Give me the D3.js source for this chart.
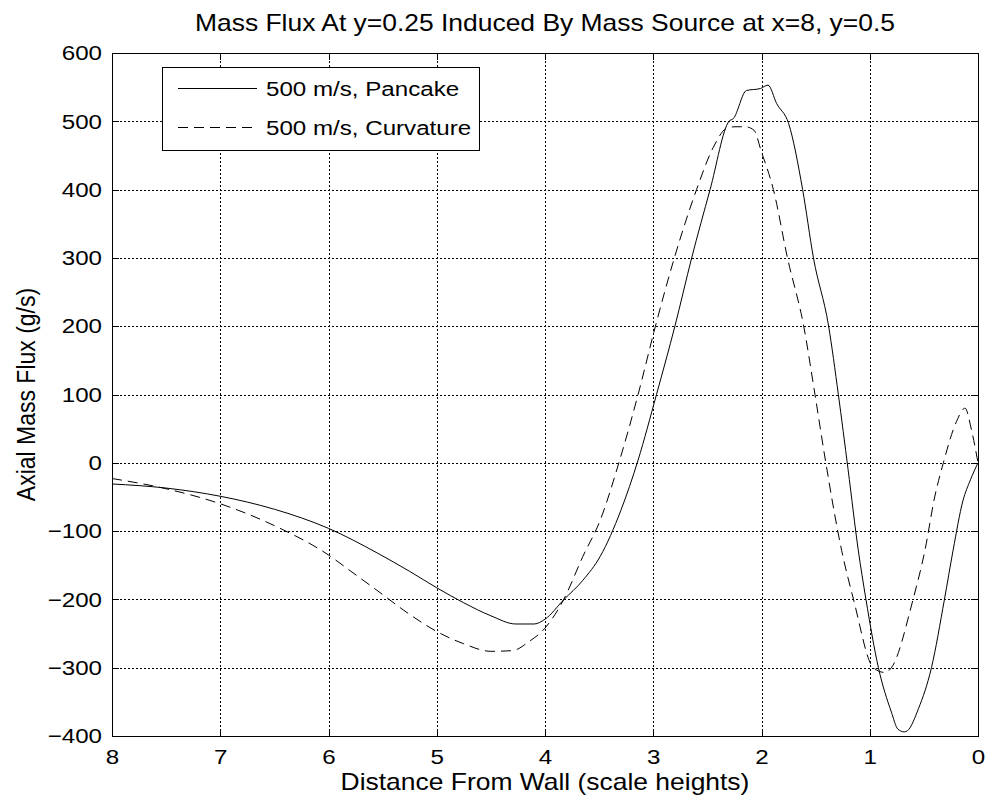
<!DOCTYPE html>
<html>
<head>
<meta charset="utf-8">
<script src="https://cdn.jsdelivr.net/npm/d3@7"></script>
<style>
  html, body { margin: 0; padding: 0; background: #fff; }
  svg text { font-family: "Liberation Sans", Arial, Helvetica, sans-serif; fill: #000; }
</style>
</head>
<body>
<svg id="chart" width="989" height="806"></svg>
<script>
// ---- data ----
const titleText = "Mass Flux At y=0.25 Induced By Mass Source at x=8, y=0.5";
const xLabelText = "Distance From Wall (scale heights)";
const yLabelText = "Axial Mass Flux (g/s)";
const seriesNames = ["500 m/s, Pancake", "500 m/s, Curvature"];
const xTicks = [8, 7, 6, 5, 4, 3, 2, 1, 0];
const yTicks = [-400, -300, -200, -100, 0, 100, 200, 300, 400, 500, 600];

const pancakeX = [8.0, 7.5, 7.0, 6.5, 6.0, 5.55, 5.25, 5.0, 4.75, 4.5, 4.27, 4.1, 4.0, 3.83, 3.65, 3.49, 3.3, 3.14, 2.97, 2.80, 2.645, 2.475, 2.30, 2.26, 2.14, 2.01, 1.94, 1.86, 1.75, 1.62, 1.52, 1.38, 1.29, 1.2, 1.106, 1.035, 0.92, 0.80, 0.74, 0.68, 0.65, 0.55, 0.43, 0.31, 0.23, 0.14, 0.07, 0.0];
const pancakeY = [-31, -37, -49, -68, -96, -132, -159, -183, -205, -224, -236, -236, -229, -201, -172, -137, -70, 4, 100, 200, 300, 400, 500, 504, 545, 548, 553, 526, 497, 400, 300, 200, 100, -10, -128, -200, -300, -365, -390, -394, -392, -360, -300, -200, -128, -56, -25, 0];

const curvX = [8.0, 7.5, 7.0, 6.5, 6.0, 5.8, 5.55, 5.25, 5.0, 4.75, 4.5, 4.3, 4.15, 4.0, 3.83, 3.65, 3.49, 3.31, 3.14, 2.98, 2.805, 2.60, 2.445, 2.32, 2.245, 2.15, 2.07, 2.0, 1.89, 1.76, 1.61, 1.506, 1.41, 1.26, 1.15, 0.967, 0.86, 0.80, 0.60, 0.49, 0.40, 0.32, 0.2, 0.12, 0.06, 0.0];
const curvY = [-23, -38, -60, -92, -135, -158, -187, -222, -247, -265, -276, -275, -262, -242, -201, -137, -84, 4, 100, 200, 300, 400, 462, 490, 492, 492, 487, 455, 400, 300, 200, 100, 4, -128, -200, -300, -307, -300, -200, -128, -50, 0, 60, 80, 48, 0];

// ---- layout ----
const SX = 1.15; // horizontal glyph stretch seen in the reference
const svg = d3.select("#chart");
const L = 112, R = 978, T = 53, B = 736;

const x = d3.scaleLinear().domain([8, 0]).range([L, R]);
const y = d3.scaleLinear().domain([-400, 600]).range([B, T]);

svg.append("rect").attr("width", 989).attr("height", 806).attr("fill", "#fff");

// grid
const grid = svg.append("g").attr("stroke", "#000").attr("stroke-width", 1)
  .attr("stroke-dasharray", "2,2").attr("shape-rendering", "crispEdges");
grid.selectAll("line.vx").data(xTicks.filter(d => d !== 8 && d !== 0)).enter().append("line")
  .attr("x1", d => Math.round(x(d)) + 0.5).attr("x2", d => Math.round(x(d)) + 0.5)
  .attr("y1", T).attr("y2", B);
grid.selectAll("line.hy").data(yTicks.filter(d => d !== -400 && d !== 600)).enter().append("line")
  .attr("x1", L).attr("x2", R)
  .attr("y1", d => Math.round(y(d)) + 0.5).attr("y2", d => Math.round(y(d)) + 0.5);

// axes (ticks inward, MATLAB style)
const fs = 21;
const xAxis = svg.append("g").attr("transform", `translate(0,${B})`)
  .call(d3.axisBottom(x).tickValues(xTicks).tickFormat(d3.format("d")).tickSize(-7).tickPadding(13));
const xAxisTop = svg.append("g").attr("transform", `translate(0,${T})`)
  .call(d3.axisTop(x).tickValues(xTicks).tickFormat("").tickSize(-7));
const yAxis = svg.append("g").attr("transform", `translate(${L},0)`)
  .call(d3.axisLeft(y).tickValues(yTicks).tickFormat(d3.format("d")).tickSize(-7).tickPadding(10));
const yAxisRight = svg.append("g").attr("transform", `translate(${R},0)`)
  .call(d3.axisRight(y).tickValues(yTicks).tickFormat("").tickSize(-7));

[xAxis, xAxisTop, yAxis, yAxisRight].forEach(g => {
  g.select(".domain").remove();
  g.selectAll(".tick line").attr("stroke", "#000").attr("shape-rendering", "crispEdges");
});
xAxis.selectAll(".tick text").attr("font-size", fs).attr("fill", "#000")
  .attr("transform", `scale(${SX},1)`).attr("font-family", "Liberation Sans, Arial, sans-serif");
yAxis.selectAll(".tick text").attr("font-size", fs).attr("fill", "#000")
  .attr("x", -10 / SX).attr("transform", `scale(${SX},1)`).attr("font-family", "Liberation Sans, Arial, sans-serif");

// curves
const line = d3.line().x(d => x(d[0])).y(d => y(d[1])).curve(d3.curveMonotoneX);
const pancake = pancakeX.map((v, i) => [v, pancakeY[i]]);
const curv = curvX.map((v, i) => [v, curvY[i]]);
svg.append("path").datum(pancake).attr("d", line)
  .attr("fill", "none").attr("stroke", "#000").attr("stroke-width", 1);
svg.append("path").datum(curv).attr("d", line)
  .attr("fill", "none").attr("stroke", "#000").attr("stroke-width", 1).attr("stroke-dasharray", "10,6");

// box
svg.append("rect").attr("x", L + 0.5).attr("y", T + 0.5).attr("width", R - L).attr("height", B - T)
  .attr("fill", "none").attr("stroke", "#000").attr("stroke-width", 1).attr("shape-rendering", "crispEdges");

// legend
const lg = svg.append("g");
const lgBox = lg.append("rect").attr("x", 162.5).attr("y", 67.5).attr("height", 83)
  .attr("fill", "#fff").attr("stroke", "#000").attr("stroke-width", 1).attr("shape-rendering", "crispEdges");
const lgY = [88, 127];
const dashes = [null, "10,6"];
let maxRight = 0;
seriesNames.forEach((name, i) => {
  lg.append("line").attr("x1", 178).attr("x2", 257).attr("y1", lgY[i] + 0.5).attr("y2", lgY[i] + 0.5)
    .attr("stroke", "#000").attr("stroke-width", 1).attr("stroke-dasharray", dashes[i]);
  const t = lg.append("text").attr("x", 266 / SX).attr("y", lgY[i]).attr("dy", "0.36em")
    .attr("font-size", fs).attr("transform", `scale(${SX},1)`).text(name);
  const bb = t.node().getBBox();
  maxRight = Math.max(maxRight, (bb.x + bb.width) * SX);
});
lgBox.attr("width", Math.round(maxRight + 8 - 162));

// title and labels
svg.append("text").attr("x", ((L + R) / 2) / SX).attr("y", 31).attr("text-anchor", "middle")
  .attr("font-size", 23).attr("transform", `scale(${SX},1)`).text(titleText);
svg.append("text").attr("x", ((L + R) / 2) / SX).attr("y", 790).attr("text-anchor", "middle")
  .attr("font-size", 23).attr("transform", `scale(${SX},1)`).text(xLabelText);
svg.append("text").attr("text-anchor", "middle").attr("font-size", 23)
  .attr("transform", `translate(35,${(T + B) / 2}) rotate(-90) scale(1,${SX})`).text(yLabelText);
</script>
</body>
</html>
